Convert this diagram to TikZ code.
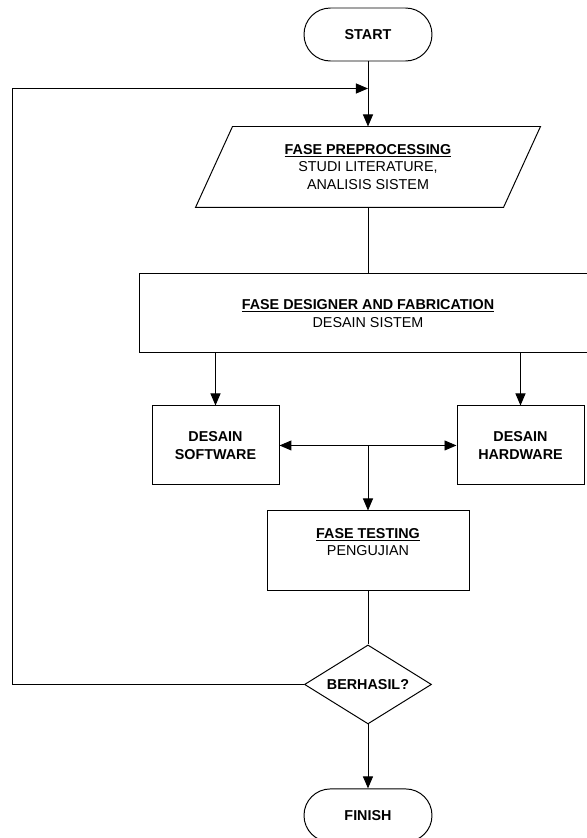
\documentclass[tikz,border=0pt]{standalone}
\usepackage{fontspec}
\setmainfont{Liberation Sans}
\usetikzlibrary{arrows.meta,positioning,calc,shapes.geometric}

\begin{document}
\begin{tikzpicture}[
    font=\fontsize{10.2}{12.6}\selectfont,
    >={Triangle[length=0.3cm,width=0.25cm]},
    line width=0.7pt,
    bold/.style={font=\fontsize{10.2}{12.6}\selectfont\bfseries},
    box/.style={draw, align=center, inner sep=2pt},
    term/.style={draw, bold, rounded corners=0.66cm, minimum width=3.2cm, minimum height=1.325cm},
    io/.style={align=center, minimum width=7.675cm, minimum height=2cm, inner sep=0pt},
    cond/.style={draw, diamond, bold, aspect=1.6, inner sep=0pt, minimum width=3.175cm, minimum height=1.975cm},
    arr/.style={->}
]
    \useasboundingbox (-9.2,0.8625) rectangle (5.45,-20.0875);

    \node[term] (start) {START};
    \node[io, below=1.625cm of start] (pre) {\underline{\textbf{FASE PREPROCESSING}}\\STUDI LITERATURE,\\ANALISIS SISTEM};
    \node[box, below=1.65cm of pre, minimum width=11.45cm, minimum height=1.975cm] (des) {\underline{\textbf{FASE DESIGNER AND FABRICATION}}\\DESAIN SISTEM};
    \node[box, bold, below=1.3cm of des, xshift=-3.8125cm, minimum width=3.175cm, minimum height=1.975cm] (sw) {DESAIN\\SOFTWARE};
    \node[box, bold, below=1.3cm of des, xshift=3.8125cm, minimum width=3.175cm, minimum height=1.975cm] (hw) {DESAIN\\HARDWARE};
    \node[box, below=3.925cm of des, minimum width=5.05cm, minimum height=2cm] (test) {\underline{\textbf{FASE TESTING}}\\PENGUJIAN\\\mbox{}};
    \node[cond, below=1.325cm of test] (dec) {BERHASIL?};
    \node[term, below=1.6cm of dec] (fin) {FINISH};

    % slanted outline of the input block
    \draw ([xshift=0.4625cm]pre.north west) -- ([xshift=0.4625cm]pre.north east)
        -- ([xshift=-0.4625cm]pre.south east) -- ([xshift=-0.4625cm]pre.south west) -- cycle;

    \coordinate (back) at ($(start.south)+(0,-0.675)$);
    \coordinate (corner) at ($(back)+(-8.9,0)$);

    \draw[arr] (start) -- (pre);
    \draw (pre) -- (des);
    \draw[arr] (des.south -| sw) -- (sw);
    \draw[arr] (des.south -| hw) -- (hw);
    \draw[<->] (sw) -- (hw);
    \draw[arr] (sw -| test) -- (test);
    \draw (test) -- (dec);
    \draw[arr] (dec) -- (fin);
    \draw[arr] (dec.west) -| (corner) -- (back);
\end{tikzpicture}
\end{document}
